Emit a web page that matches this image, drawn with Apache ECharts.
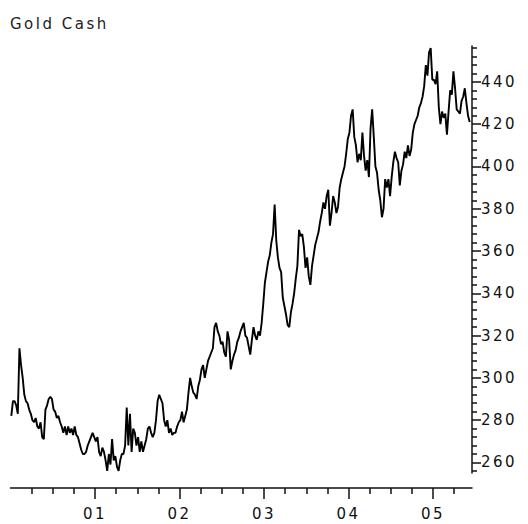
<!DOCTYPE html>
<html>
<head>
<meta charset="utf-8">
<script src="https://cdn.jsdelivr.net/npm/echarts@6.0.0/dist/echarts.min.js"></script>
<style>
  html, body { margin: 0; padding: 0; background: #fff; }
  #chart { width: 528px; height: 524px; }
  #chart text { letter-spacing: 2.5px; }
</style>
</head>
<body>
<div id="chart"></div>
<script>
// weekly gold cash prices
const prices2000 = [282, 289, 289, 287, 283, 314, 306, 300, 292, 289, 288, 285, 283, 280, 279, 281, 277, 276, 279, 272, 271, 285, 287, 290, 291, 290, 285, 284, 281, 282, 279, 277, 274, 277, 273, 277, 274, 276, 273, 277, 273, 272, 269, 266, 264, 264, 265, 268, 270, 272, 274, 272];
const prices2001 = [270, 272, 265, 263, 267, 265, 261, 256, 264, 259, 271, 261, 263, 258, 256, 261, 264, 264, 268, 286, 268, 283, 265, 276, 274, 268, 272, 265, 270, 265, 268, 271, 276, 277, 274, 272, 274, 280, 289, 292, 290, 288, 280, 277, 280, 274, 276, 273, 274, 274, 277, 279];
const prices2002 = [280, 284, 279, 282, 285, 293, 300, 296, 293, 292, 290, 296, 299, 304, 306, 300, 304, 308, 310, 312, 314, 324, 326, 322, 320, 316, 317, 312, 310, 322, 318, 304, 308, 311, 313, 317, 319, 322, 324, 326, 320, 319, 315, 311, 318, 324, 320, 318, 322, 320, 326, 335];
const prices2003 = [345, 350, 355, 358, 364, 368, 382, 365, 357, 352, 350, 338, 334, 330, 325, 324, 331, 335, 340, 347, 353, 370, 367, 368, 362, 352, 357, 348, 344, 353, 358, 363, 366, 369, 374, 378, 383, 380, 386, 389, 372, 378, 386, 383, 378, 381, 390, 394, 397, 400, 406, 413];
const prices2004 = [416, 424, 427, 414, 410, 402, 406, 403, 416, 405, 398, 403, 395, 418, 427, 414, 400, 397, 389, 384, 376, 380, 394, 390, 394, 386, 395, 402, 407, 404, 402, 391, 398, 401, 407, 404, 410, 405, 408, 416, 420, 422, 424, 428, 430, 433, 438, 448, 443, 454, 456, 441];
const prices2005 = [441, 439, 445, 428, 420, 426, 423, 425, 415, 426, 436, 434, 445, 437, 427, 426, 425, 431, 433, 437, 430, 424, 421];

const years = [2000, 2001, 2002, 2003, 2004, 2005];
const yearTicks = [2001, 2002, 2003, 2004, 2005];
const yearLabels = ['01', '02', '03', '04', '05'];
const priceTicks = [260, 280, 300, 320, 340, 360, 380, 400, 420, 440];

const xMin = 2000, xMax = 2005.46;
const yMin = 255, yMax = 457;
const font = 'DejaVu Sans';

(function() {
  let myChart = echarts.init(document.getElementById('chart'), null, { renderer: 'svg' });

  // one point per week, placed at the middle of the week
  let series = [prices2000, prices2001, prices2002, prices2003, prices2004, prices2005];
  let data = [];
  series.forEach(function(arr, k) {
    arr.forEach(function(v, i) {
      data.push([years[k] + (i + 0.5) / 52, v]);
    });
  });

  // small ticks: quarters on x, every 4 on y
  let quarterTicks = [];
  years.forEach(function(y) {
    [0.25, 0.5, 0.75].forEach(function(q) {
      if (y + q < xMax) quarterTicks.push(y + q);
    });
  });
  let priceMinor = [];
  for (let p = 256; p <= 456; p += 4) {
    if (p % 20 !== 0) priceMinor.push(p);
  }

  let option = {
    animation: false,
    title: {
      text: 'Gold Cash',
      left: 5,
      top: 11,
      textStyle: { fontFamily: font, fontSize: 15, fontWeight: 'normal', color: '#222' }
    },
    grid: {
      left: 10.5,
      right: 56,
      top: 46,
      bottom: 51,
      outerBoundsMode: 'none'
    },
    xAxis: [
      {
        type: 'value',
        min: xMin,
        max: xMax,
        position: 'bottom',
        offset: 15,
        axisLine: { show: true, lineStyle: { color: '#111', width: 1.5 } },
        axisTick: { show: true, customValues: yearTicks, length: 11, lineStyle: { color: '#111', width: 1.5 } },
        axisLabel: {
          customValues: yearTicks,
          formatter: function(v) { return yearLabels[Math.round(v) - 2001]; },
          margin: 18,
          fontFamily: font,
          fontSize: 15,
          color: '#111'
        },
        splitLine: { show: false }
      },
      {
        type: 'value',
        min: xMin,
        max: xMax,
        position: 'bottom',
        offset: 15,
        axisLine: { show: false },
        axisTick: { show: true, customValues: quarterTicks, length: 6, lineStyle: { color: '#111', width: 1.5 } },
        axisLabel: { show: false },
        splitLine: { show: false }
      }
    ],
    yAxis: [
      {
        type: 'value',
        min: yMin,
        max: yMax,
        position: 'right',
        axisLine: { show: true, lineStyle: { color: '#111', width: 1.5 } },
        axisTick: { show: true, customValues: priceTicks, length: 9, lineStyle: { color: '#111', width: 1.5 } },
        axisLabel: {
          customValues: priceTicks,
          margin: 9,
          fontFamily: font,
          fontSize: 15,
          color: '#111'
        },
        splitLine: { show: false }
      },
      {
        type: 'value',
        min: yMin,
        max: yMax,
        position: 'right',
        axisLine: { show: false },
        axisTick: { show: true, customValues: priceMinor, length: 5, lineStyle: { color: '#111', width: 1.5 } },
        axisLabel: { show: false },
        splitLine: { show: false }
      }
    ],
    series: [
      {
        name: 'Gold Cash',
        type: 'line',
        data: data,
        showSymbol: false,
        xAxisIndex: 0,
        yAxisIndex: 0,
        lineStyle: { color: '#000', width: 1.9 }
      }
    ]
  };
  myChart.setOption(option);
})();
</script>
</body>
</html>
